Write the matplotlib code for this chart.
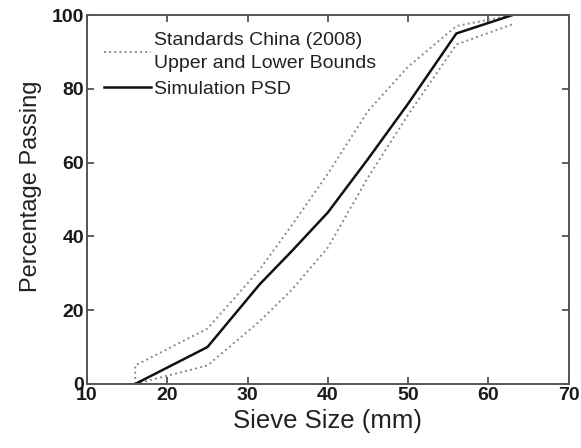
import matplotlib
matplotlib.use("Agg")
import matplotlib.pyplot as plt

# sieve sizes (mm) and percentage passing
sieve = [16, 25, 31.5, 35.5, 40, 45, 50, 56, 63]
simulation = [0, 10, 27, 36, 46.5, 61, 76, 95, 100]
lower = [0, 5, 17, 25.5, 37, 56, 73, 92, 97.5]
upper_sieve = [16, 16, 25, 31.5, 35.5, 40, 45, 50, 56, 63]
upper = [0, 5, 15, 31, 43, 57, 74, 86, 97, 100]

plt.rcParams['font.family'] = ['Liberation Sans', 'DejaVu Sans']

fig = plt.figure(figsize=(5.81, 4.48), dpi=100)
ax = fig.add_axes([0.1497, 0.1429, 0.8293, 0.8236])

ax.plot(upper_sieve, upper, linestyle=':', color='#8a8a8a', lw=1.4,
        label='Standards China (2008)\nUpper and Lower Bounds')
ax.plot(sieve, lower, linestyle=':', color='#8a8a8a', lw=1.4)
ax.plot(sieve, simulation, color='#111111', lw=1.8, label='Simulation PSD')

ax.set_xlim(10, 70)
ax.set_ylim(0, 100)
ax.set_xticks(range(10, 71, 10))
ax.set_yticks(range(0, 101, 20))

ax.tick_params(direction='in', top=True, right=True, length=5, width=1.2,
               colors='#444444', labelcolor='#1a1a1a', labelsize=14, pad=2)
for lab in ax.get_xticklabels() + ax.get_yticklabels():
    lab.set_fontweight('bold')
for s in ax.spines.values():
    s.set_color('#555555')
    s.set_linewidth(1.4)

ax.set_xlabel('Sieve Size (mm)', fontsize=18.5, color='#222222', labelpad=4)
ax.set_ylabel('Percentage Passing', fontsize=17, color='#222222')
ax.yaxis.set_label_coords(-0.094, 0.535)

leg = ax.legend(loc='upper left', frameon=False, fontsize=14,
                handlelength=2.4, handletextpad=0.15, labelspacing=0.45,
                borderaxespad=0.0, bbox_to_anchor=(0.02, 0.975))
for t in leg.get_texts():
    t.set_color('#222222')
    t.set_linespacing(1.45)

fig.savefig('out.png', dpi=100)
